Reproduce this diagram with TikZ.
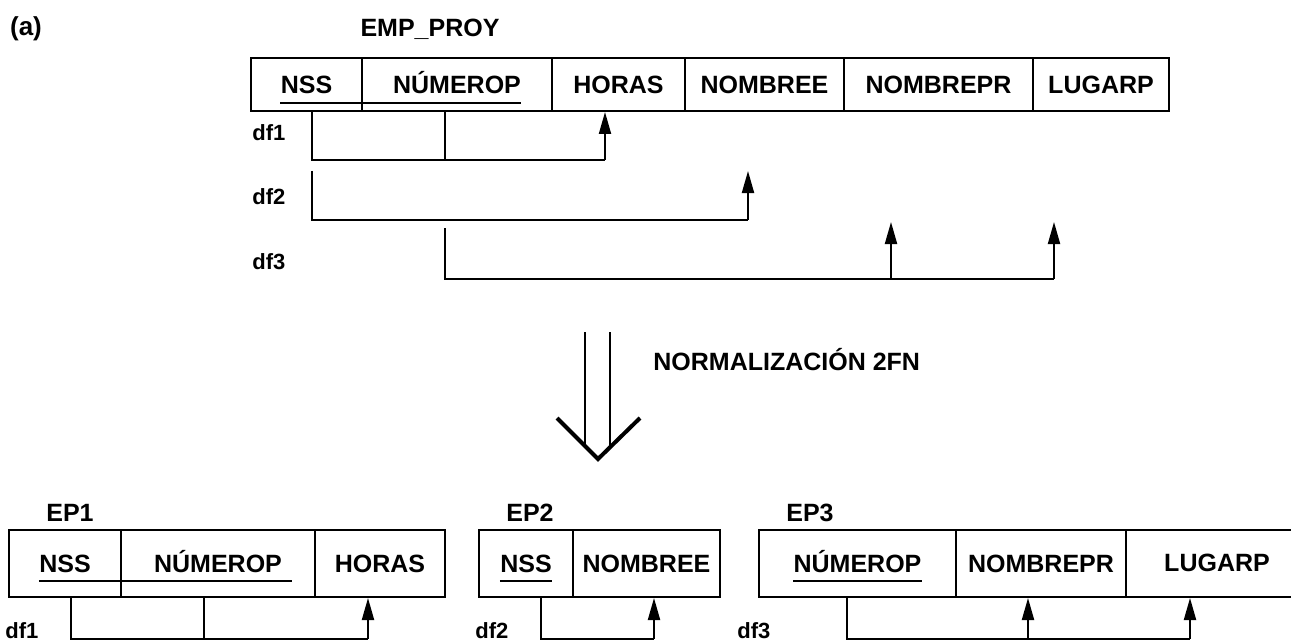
\documentclass[tikz,border=0pt]{standalone}
\usepackage{fontspec}
\setmainfont{Liberation Sans}
\usetikzlibrary{arrows.meta,calc}
\begin{document}
\begin{tikzpicture}[x=0.5pt,y=-0.5pt,
  base/.style={font=\bfseries\fontsize{12.5}{15}\selectfont},
  cell/.style={draw, line width=1pt, anchor=north west, inner sep=0pt},
  topcell/.style={cell, minimum height=26.5pt},
  botcell/.style={cell, minimum height=33.5pt},
  txt/.style={base, inner sep=0pt, text height=9pt, text depth=0pt},
  title/.style={base, inner sep=0pt},
  lbl/.style={font=\bfseries\fontsize{11}{13}\selectfont, inner sep=0pt, anchor=west},
  ln/.style={line width=1pt},
  arr/.style={line width=1pt, -{Triangle[length=11pt,width=6pt]}},
  ul/.style={line width=0.9pt}]
\useasboundingbox (0,0) rectangle (1291,642);

% ---------- top relation ----------
\node[font=\bfseries\fontsize{13}{15}\selectfont, inner sep=0pt] (lab) at (26,29) {(a)};
\node[title] (emp) at (430,29) {EMP\_PROY};

\node[topcell, minimum width=55.5pt] (aNSS) at (250,57) {};
\node[topcell, minimum width=95pt]   (aNUM) at (361,57) {};
\node[topcell, minimum width=66.5pt] (aHOR) at (551,57) {};
\node[topcell, minimum width=79.5pt] (aNBE) at (684,57) {};
\node[topcell, minimum width=94.5pt] (aNPR) at (843,57) {};
\node[topcell, minimum width=68pt]   (aLUG) at (1032,57) {};

\node[txt] (tNSS) at (aNSS.center) {NSS};
\node[txt] (tNUM) at (aNUM.center) {NÚMEROP};
\node[txt] (tHOR) at (aHOR.center) {HORAS};
\node[txt] (tNBE) at (aNBE.center) {NOMBREE};
\node[txt] (tNPR) at (aNPR.center) {NOMBREPR};
\node[txt] (tLUG) at (aLUG.center) {LUGARP};
\draw[ul] ([yshift=-4.5pt]tNSS.south west) -- ([yshift=-4.5pt]tNUM.south east);

\node[lbl] (df1a) at (252,133) {df1};
\node[lbl] (df2a) at (252,197) {df2};
\node[lbl] (df3a) at (252,262) {df3};

% df1
\coordinate (a1) at (312,160);
\coordinate (a2) at (445,160);
\coordinate (a3) at (605,160);
\draw[ln] (a1 |- aNSS.south) -- (a1) -- (a3);
\draw[ln] (a2 |- aNUM.south) -- (a2);
\draw[arr] (a3) -- (a3 |- aHOR.south);
% df2
\coordinate (b0) at (312,171);
\coordinate (b1) at (312,220);
\coordinate (b2) at (748,220);
\coordinate (b3) at (748,171);
\draw[ln] (b0) -- (b1) -- (b2);
\draw[arr] (b2) -- (b3);
% df3
\coordinate (c0) at (445,228);
\coordinate (c1) at (445,279);
\coordinate (c2) at (891,279);
\coordinate (c3) at (1054,279);
\draw[ln] (c0) -- (c1) -- (c3);
\draw[arr] (c2) -- (c2 |- 0,222);
\draw[arr] (c3) -- (c3 |- 0,222);

% ---------- big arrow ----------
\coordinate (sL) at (585,332);
\coordinate (sR) at (610,332);
\coordinate (vL) at (557,418);
\coordinate (vT) at (598,459);
\coordinate (vR) at (640,418);
\draw[ln] (sL) -- (585,448);
\draw[ln] (sR) -- (610,448);
\draw[line width=2pt, line join=miter] (vL) -- (vT) -- (vR);
\node[title, anchor=west] (norm) at (653,360) {NORMALIZACIÓN 2FN};

% ---------- EP1 ----------
\node[title] (ep1) at (70,513) {EP1};
\node[botcell, minimum width=56pt] (eNSS) at (8,529) {};
\node[botcell, minimum width=97pt] (eNUM) at (120,529) {};
\node[botcell, minimum width=65pt] (eHOR) at (314,529) {};
\node[txt] (uNSS) at (eNSS.center) {NSS};
\node[txt] (uNUM) at (eNUM.center) {NÚMEROP};
\node[txt] (uHOR) at (eHOR.center) {HORAS};
\draw[ul] ([yshift=-4pt]uNSS.south west) -- ([xshift=5pt,yshift=-4pt]uNUM.south east);
\node[lbl] (df1b) at (5,631) {df1};
\coordinate (d1) at (71,639);
\coordinate (d2) at (204,639);
\coordinate (d3) at (368,639);
\draw[ln] (d1 |- eNSS.south) -- (d1) -- (d3);
\draw[ln] (d2 |- eNUM.south) -- (d2);
\draw[arr] (d3) -- (d3 |- eHOR.south);

% ---------- EP2 ----------
\node[title] (ep2) at (530,513) {EP2};
\node[botcell, minimum width=47pt]   (fNSS) at (478,529) {};
\node[botcell, minimum width=73.5pt] (fNBE) at (572,529) {};
\node[txt] (vNSS) at (fNSS.center) {NSS};
\node[txt] (vNBE) at (fNBE.center) {NOMBREE};
\draw[ul] ([yshift=-4pt]vNSS.south west) -- ([yshift=-4pt]vNSS.south east);
\node[lbl] (df2b) at (475,631) {df2};
\coordinate (g1) at (541,639);
\coordinate (g2) at (654,639);
\draw[ln] (g1 |- fNSS.south) -- (g1) -- (g2);
\draw[arr] (g2) -- (g2 |- fNBE.south);

% ---------- EP3 ----------
\node[title] (ep3) at (810,513) {EP3};
\node[botcell, minimum width=98.5pt] (hNUM) at (758,529) {};
\node[botcell, minimum width=85pt]   (hNPR) at (955,529) {};
\node[botcell, minimum width=87.5pt] (hLUG) at (1125,529) {};
\node[txt] (wNUM) at (hNUM.center) {NÚMEROP};
\node[txt] (wNPR) at (hNPR.center) {NOMBREPR};
\node[txt] (wLUG) at (1217,562.5) {LUGARP};
\draw[ul] ([yshift=-4pt]wNUM.south west) -- ([yshift=-4pt]wNUM.south east);
\node[lbl] (df3b) at (737,631) {df3};
\coordinate (k1) at (847,639);
\coordinate (k2) at (1028,639);
\coordinate (k3) at (1190,639);
\draw[ln] (k1 |- hNUM.south) -- (k1) -- (k3);
\draw[arr] (k2) -- (k2 |- hNPR.south);
\draw[arr] (k3) -- (k3 |- hLUG.south);
\end{tikzpicture}
\end{document}
